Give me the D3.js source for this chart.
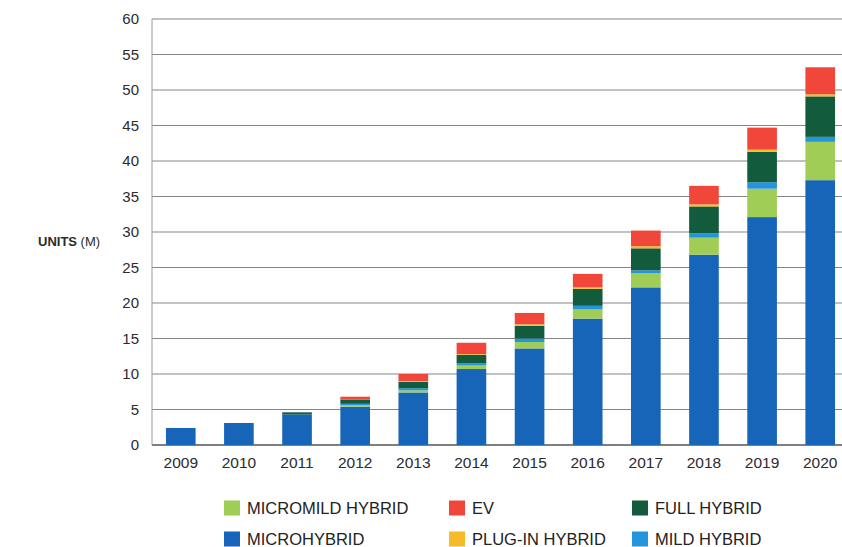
<!DOCTYPE html>
<html>
<head>
<meta charset="utf-8">
<script src="https://cdn.jsdelivr.net/npm/d3@7"></script>
<style>
  html, body { margin: 0; padding: 0; background: #fff; }
  svg { display: block; font-family: "Liberation Sans", Arial, Helvetica, sans-serif; }
</style>
</head>
<body>
<svg id="chart" width="842" height="547"></svg>
<script>
// Hybrid / electric vehicle unit forecast, millions of units per year
const years = ["2009", "2010", "2011", "2012", "2013", "2014", "2015", "2016", "2017", "2018", "2019", "2020"];
const microhybrid     = [2.4, 3.1, 4.3, 5.4, 7.4, 10.7, 13.6, 17.8, 22.2, 26.8, 32.1, 37.3];
const micromildHybrid = [0, 0, 0, 0.2, 0.3, 0.5, 0.9, 1.3, 2.0, 2.4, 4.0, 5.4];
const mildHybrid      = [0, 0, 0, 0.2, 0.3, 0.3, 0.5, 0.5, 0.4, 0.6, 0.9, 0.7];
const fullHybrid      = [0, 0, 0.3, 0.6, 0.9, 1.2, 1.8, 2.4, 3.1, 3.8, 4.3, 5.7];
const plugInHybrid    = [0, 0, 0, 0, 0.1, 0.1, 0.2, 0.2, 0.3, 0.3, 0.3, 0.3];
const ev              = [0, 0, 0, 0.4, 1.0, 1.6, 1.6, 1.9, 2.2, 2.6, 3.1, 3.8];
const yTicks = [0, 5, 10, 15, 20, 25, 30, 35, 40, 45, 50, 55, 60];

// stacking order, bottom to top
const series = [
  { key: "MICROHYBRID",      values: microhybrid,     color: "#1765b9" },
  { key: "MICROMILD HYBRID", values: micromildHybrid, color: "#9fcd55" },
  { key: "MILD HYBRID",      values: mildHybrid,      color: "#2395de" },
  { key: "FULL HYBRID",      values: fullHybrid,      color: "#125b3c" },
  { key: "PLUG-IN HYBRID",   values: plugInHybrid,    color: "#f6bb2a" },
  { key: "EV",               values: ev,              color: "#f1463a" }
];

const table = years.map((yr, i) => {
  const row = { year: yr };
  series.forEach(s => { row[s.key] = s.values[i]; });
  return row;
});

const svg = d3.select("#chart");
const plotLeft = 152, plotRight = 849, plotTop = 19, plotBottom = 445;

const x = d3.scaleBand().domain(years).range([plotLeft, plotRight]).paddingInner(0.49).paddingOuter(0.24);
const y = d3.scaleLinear().domain([0, 60]).range([plotBottom, plotTop]);

// horizontal gridlines
svg.append("g")
  .selectAll("line")
  .data(yTicks)
  .join("line")
  .attr("x1", plotLeft).attr("x2", 842)
  .attr("y1", d => y(d)).attr("y2", d => y(d))
  .attr("stroke", d => d === 0 ? "#555" : "#858585")
  .attr("stroke-width", d => d === 0 ? 1.4 : 1);

// vertical axis line
svg.append("line")
  .attr("x1", plotLeft).attr("x2", plotLeft)
  .attr("y1", y(60)).attr("y2", y(0))
  .attr("stroke", "#9a9a9a").attr("stroke-width", 1);

// y tick labels
const yAxis = d3.axisLeft(y).tickValues(yTicks).tickSize(0).tickPadding(13);
const gy = svg.append("g").attr("transform", `translate(${plotLeft},0)`).call(yAxis);
gy.select(".domain").remove();
gy.selectAll("text").attr("font-size", 15).attr("fill", "#2b2b2b")
  .attr("font-family", "'Liberation Sans', Arial, sans-serif");

// x tick labels
const xAxis = d3.axisBottom(x).tickSize(0).tickPadding(12);
const gx = svg.append("g").attr("transform", `translate(0,${plotBottom})`).call(xAxis);
gx.select(".domain").remove();
gx.selectAll("text").attr("font-size", 15.5).attr("fill", "#2b2b2b")
  .attr("font-family", "'Liberation Sans', Arial, sans-serif");

// y axis title
const title = svg.append("text")
  .attr("x", 38).attr("y", 246)
  .attr("font-size", 13).attr("fill", "#2b2b2b");
title.append("tspan").attr("font-weight", "bold").text("UNITS");
title.append("tspan").text(" (M)");

// stacked bars
const stack = d3.stack().keys(series.map(s => s.key));
const layers = stack(table);
svg.append("g")
  .selectAll("g")
  .data(layers)
  .join("g")
  .attr("fill", (d, i) => series[i].color)
  .selectAll("rect")
  .data(d => d)
  .join("rect")
  .attr("x", d => x(d.data.year))
  .attr("width", x.bandwidth())
  .attr("y", d => y(d[1]))
  .attr("height", d => Math.max(0, y(d[0]) - y(d[1])));

// legend, three columns by two rows
const legendItems = [
  { key: "MICROMILD HYBRID", col: 0, row: 0 },
  { key: "EV",               col: 1, row: 0 },
  { key: "FULL HYBRID",      col: 2, row: 0 },
  { key: "MICROHYBRID",      col: 0, row: 1 },
  { key: "PLUG-IN HYBRID",   col: 1, row: 1 },
  { key: "MILD HYBRID",      col: 2, row: 1 }
];
const colX = [224, 449, 632];
const rowY = [508, 539];
const colorOf = k => series.find(s => s.key === k).color;

const lg = svg.append("g")
  .selectAll("g")
  .data(legendItems)
  .join("g")
  .attr("transform", d => `translate(${colX[d.col]},${rowY[d.row]})`);
lg.append("rect")
  .attr("x", 0).attr("y", -7.5)
  .attr("width", 16).attr("height", 15)
  .attr("fill", d => colorOf(d.key));
lg.append("text")
  .attr("x", 23).attr("y", 6)
  .attr("font-size", 16.5).attr("fill", "#222")
  .text(d => d.key);
</script>
</body>
</html>
